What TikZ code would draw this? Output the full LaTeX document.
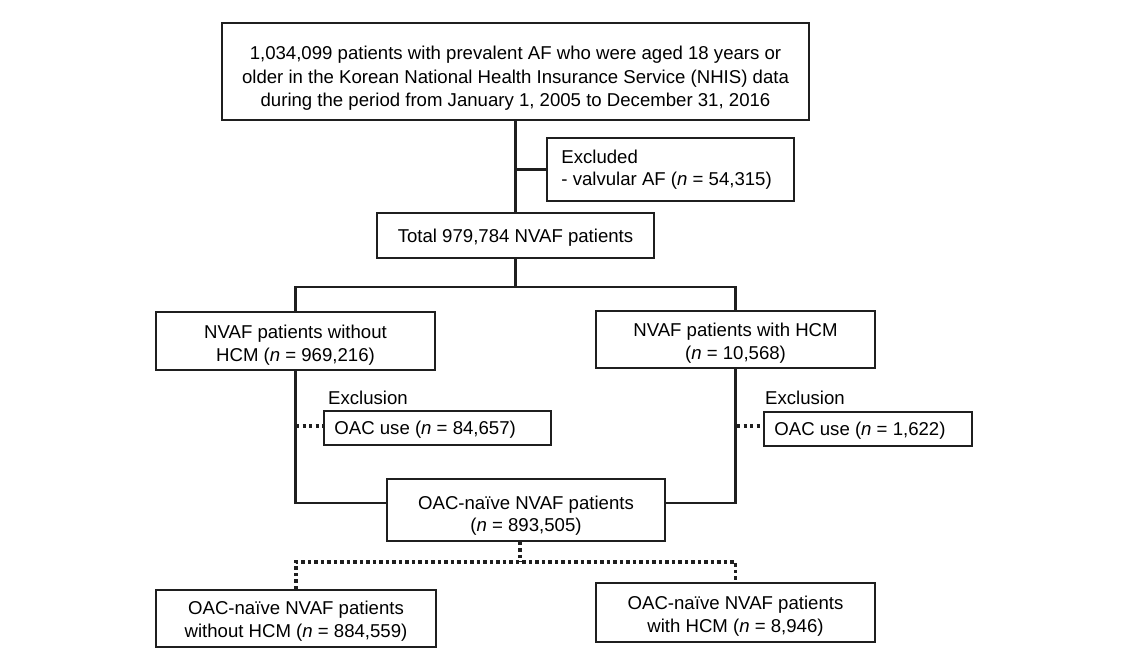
\documentclass[tikz,border=0pt]{standalone}
\usepackage{fontspec}
\setmainfont{Liberation Sans}
\begin{document}
\begin{tikzpicture}[x=1pt,y=-1pt,
  frame/.style={draw=black!88, line width=1.6pt, rectangle, inner sep=0pt},
  txt/.style={inner sep=0pt, align=center, font=\fontsize{18.6}{22.5}\selectfont},
  ltxt/.style={txt, align=left, anchor=west},
  conn/.style={draw=black!88, line width=2.7pt},
  dotconn/.style={draw=black!88, line width=3.4pt, dash pattern=on 3.3pt off 3.2pt},
  lbl/.style={inner sep=0pt, anchor=west, font=\fontsize{18.6}{22.5}\selectfont}]
\useasboundingbox (0,0) rectangle (1137,668);

% boxes
\node[frame, minimum width=587pt, minimum height=97pt] (top) at (515.5,71.5) {};
\node[frame, minimum width=247pt, minimum height=63pt] (excl) at (670.5,169.5) {};
\node[frame, minimum width=277pt, minimum height=45pt] (total) at (515.5,235.5) {};
\node[frame, minimum width=279pt, minimum height=58pt] (L) at (295.5,341) {};
\node[frame, minimum width=279pt, minimum height=57pt] (R) at (735.5,339.5) {};
\node[frame, minimum width=227pt, minimum height=34pt] (oacL) at (437.5,428) {};
\node[frame, minimum width=208pt, minimum height=34pt] (oacR) at (868,429) {};
\node[frame, minimum width=278pt, minimum height=62pt] (naive) at (526,510) {};
\node[frame, minimum width=280pt, minimum height=57pt] (bL) at (296,618.5) {};
\node[frame, minimum width=279pt, minimum height=59pt] (bR) at (735.5,612.5) {};

% texts
\node[txt, font=\fontsize{18.6}{23.5}\selectfont] (topT) at ([yshift=-7pt]top.center)
  {1,034,099 patients with prevalent AF who were aged 18 years or\\
   older in the Korean National Health Insurance Service (NHIS) data\\
   during the period from January 1, 2005 to December 31, 2016};
\node[ltxt] (exclT) at ([xshift=15pt]excl.west)
  {Excluded\\- valvular AF (\textit{n} = 54,315)};
\node[txt] (totalT) at ([yshift=-2pt]total.center) {Total 979,784 NVAF patients};
\node[txt] (LT) at ([yshift=-4pt]L.center) {NVAF patients without\\HCM (\textit{n} = 969,216)};
\node[txt] (RT) at ([yshift=-3.5pt]R.center) {NVAF patients with HCM\\(\textit{n} = 10,568)};
\node[lbl] (exL) at (328,398) {Exclusion};
\node[lbl] (exR) at (765,398) {Exclusion};
\node[ltxt] (oacLT) at ([xshift=11pt,yshift=-2pt]oacL.west) {OAC use (\textit{n} = 84,657)};
\node[ltxt] (oacRT) at ([xshift=11pt,yshift=-2pt]oacR.west) {OAC use (\textit{n} = 1,622)};
\node[txt] (naiveT) at ([yshift=-5.5pt]naive.center) {OAC-naïve NVAF patients\\(\textit{n} = 893,505)};
\node[txt] (bLT) at ([yshift=-2.5pt]bL.center) {OAC-naïve NVAF patients\\without HCM (\textit{n} = 884,559)};
\node[txt] (bRT) at ([yshift=-3.5pt]bR.center) {OAC-naïve NVAF patients\\with HCM (\textit{n} = 8,946)};

% junctions
\coordinate (jex) at (515.5,169.5);
\coordinate (jsplit) at (515.5,287);
\coordinate (jn) at (0,503);
\coordinate (jdl) at (296,426);
\coordinate (jdr) at (737,426);
\coordinate (jd) at (520,562);

\draw[conn] (top.south) -- (total.north);
\draw[conn] (jex) -- (excl.west);
\draw[conn] (total.south) -- (jsplit);
\draw[conn] (L.north) |- (jsplit) -| (R.north);
\draw[conn] (L.south) |- (naive.west |- jn);
\draw[conn] (R.south) |- (naive.east |- jn);
\draw[dotconn] (jdl) -- (oacL.west |- jdl);
\draw[dotconn] (jdr) -- (oacR.west |- jdr);
\draw[dotconn] (naive.south -| jd) -- (jd);
\draw[dotconn] (bL.north) |- (jd) -| (bR.north);
\end{tikzpicture}
\end{document}
